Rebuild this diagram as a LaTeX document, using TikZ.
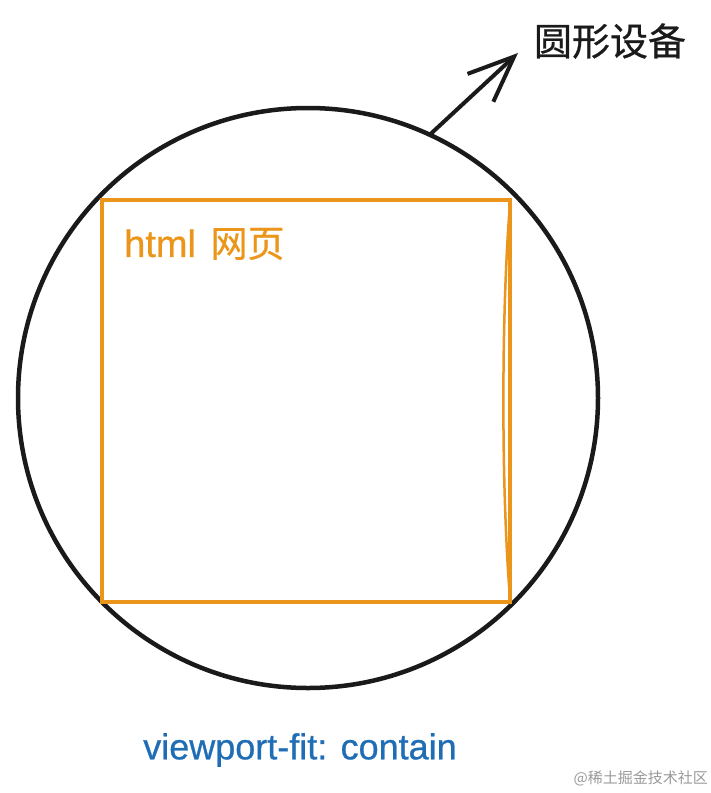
\documentclass[tikz,border=0pt]{standalone}
\usepackage{fontspec}
\setmainfont{Liberation Sans}
\newfontfamily\latinthick{Liberation Sans}[FakeBold=0.7]
\newfontfamily\cjk{Noto Sans CJK SC}
\newfontfamily\cjkthick{Noto Sans CJK SC}[FakeBold=0.6]
\usetikzlibrary{arrows.meta,calc}
\definecolor{inkblack}{HTML}{1A1A1A}
\definecolor{pageorange}{HTML}{EB961A}
\definecolor{fitblue}{HTML}{1F6DB5}
\definecolor{markgrey}{HTML}{9A9A9A}
\begin{document}
\begin{tikzpicture}[x=1pt,y=-1pt,
  devicering/.style={circle,draw=inkblack,line width=4.5pt,minimum size=580pt,inner sep=0pt},
  pagebox/.style={draw=pageorange,line width=4pt,minimum width=408pt,minimum height=402pt,inner sep=0pt},
  pointer/.style={draw=inkblack,line width=4pt,line cap=round,-{Straight Barb[length=46pt,width=38pt,line width=4pt]}},
  bigtext/.style={inner sep=0pt,font=\latinthick\fontsize{36}{40}\selectfont}
]
\useasboundingbox (0,0) rectangle (711,793);
\fill[white] (0,0) rectangle (711,793);
\node[devicering] (dev) at (308,398) {};
\node[pagebox] (page) at (306,401) {};
\draw[pageorange,line width=2.5pt] ([xshift=-1.5pt]page.north east) .. controls ($(page.north east)+(-11,110)$) and ($(page.south east)+(-11,-110)$) .. ([xshift=-1.5pt]page.south east);
\coordinate (tip) at (518,53);
\draw[pointer] (dev.65) -- (tip);
\node[inner sep=0pt,text=inkblack,font=\cjkthick\fontsize{38}{42}\selectfont] (devlabel) at (610,41) {圆形设备};
\node[inner sep=0pt,text=pageorange,anchor=west,font=\latinthick\fontsize{38}{42}\selectfont] (pagelabel) at (124,244) {html\hspace{4pt} {\cjkthick\fontsize{37}{42}\selectfont 网页}};
\node[bigtext,text=fitblue] (fitlabel) at (300,750) {viewport-fit: contain};
\node[inner sep=0pt,text=markgrey,font=\cjk\fontsize{15}{17}\selectfont,anchor=east] (mark) at (708,778) {@稀土掘金技术社区};
\end{tikzpicture}
\end{document}
